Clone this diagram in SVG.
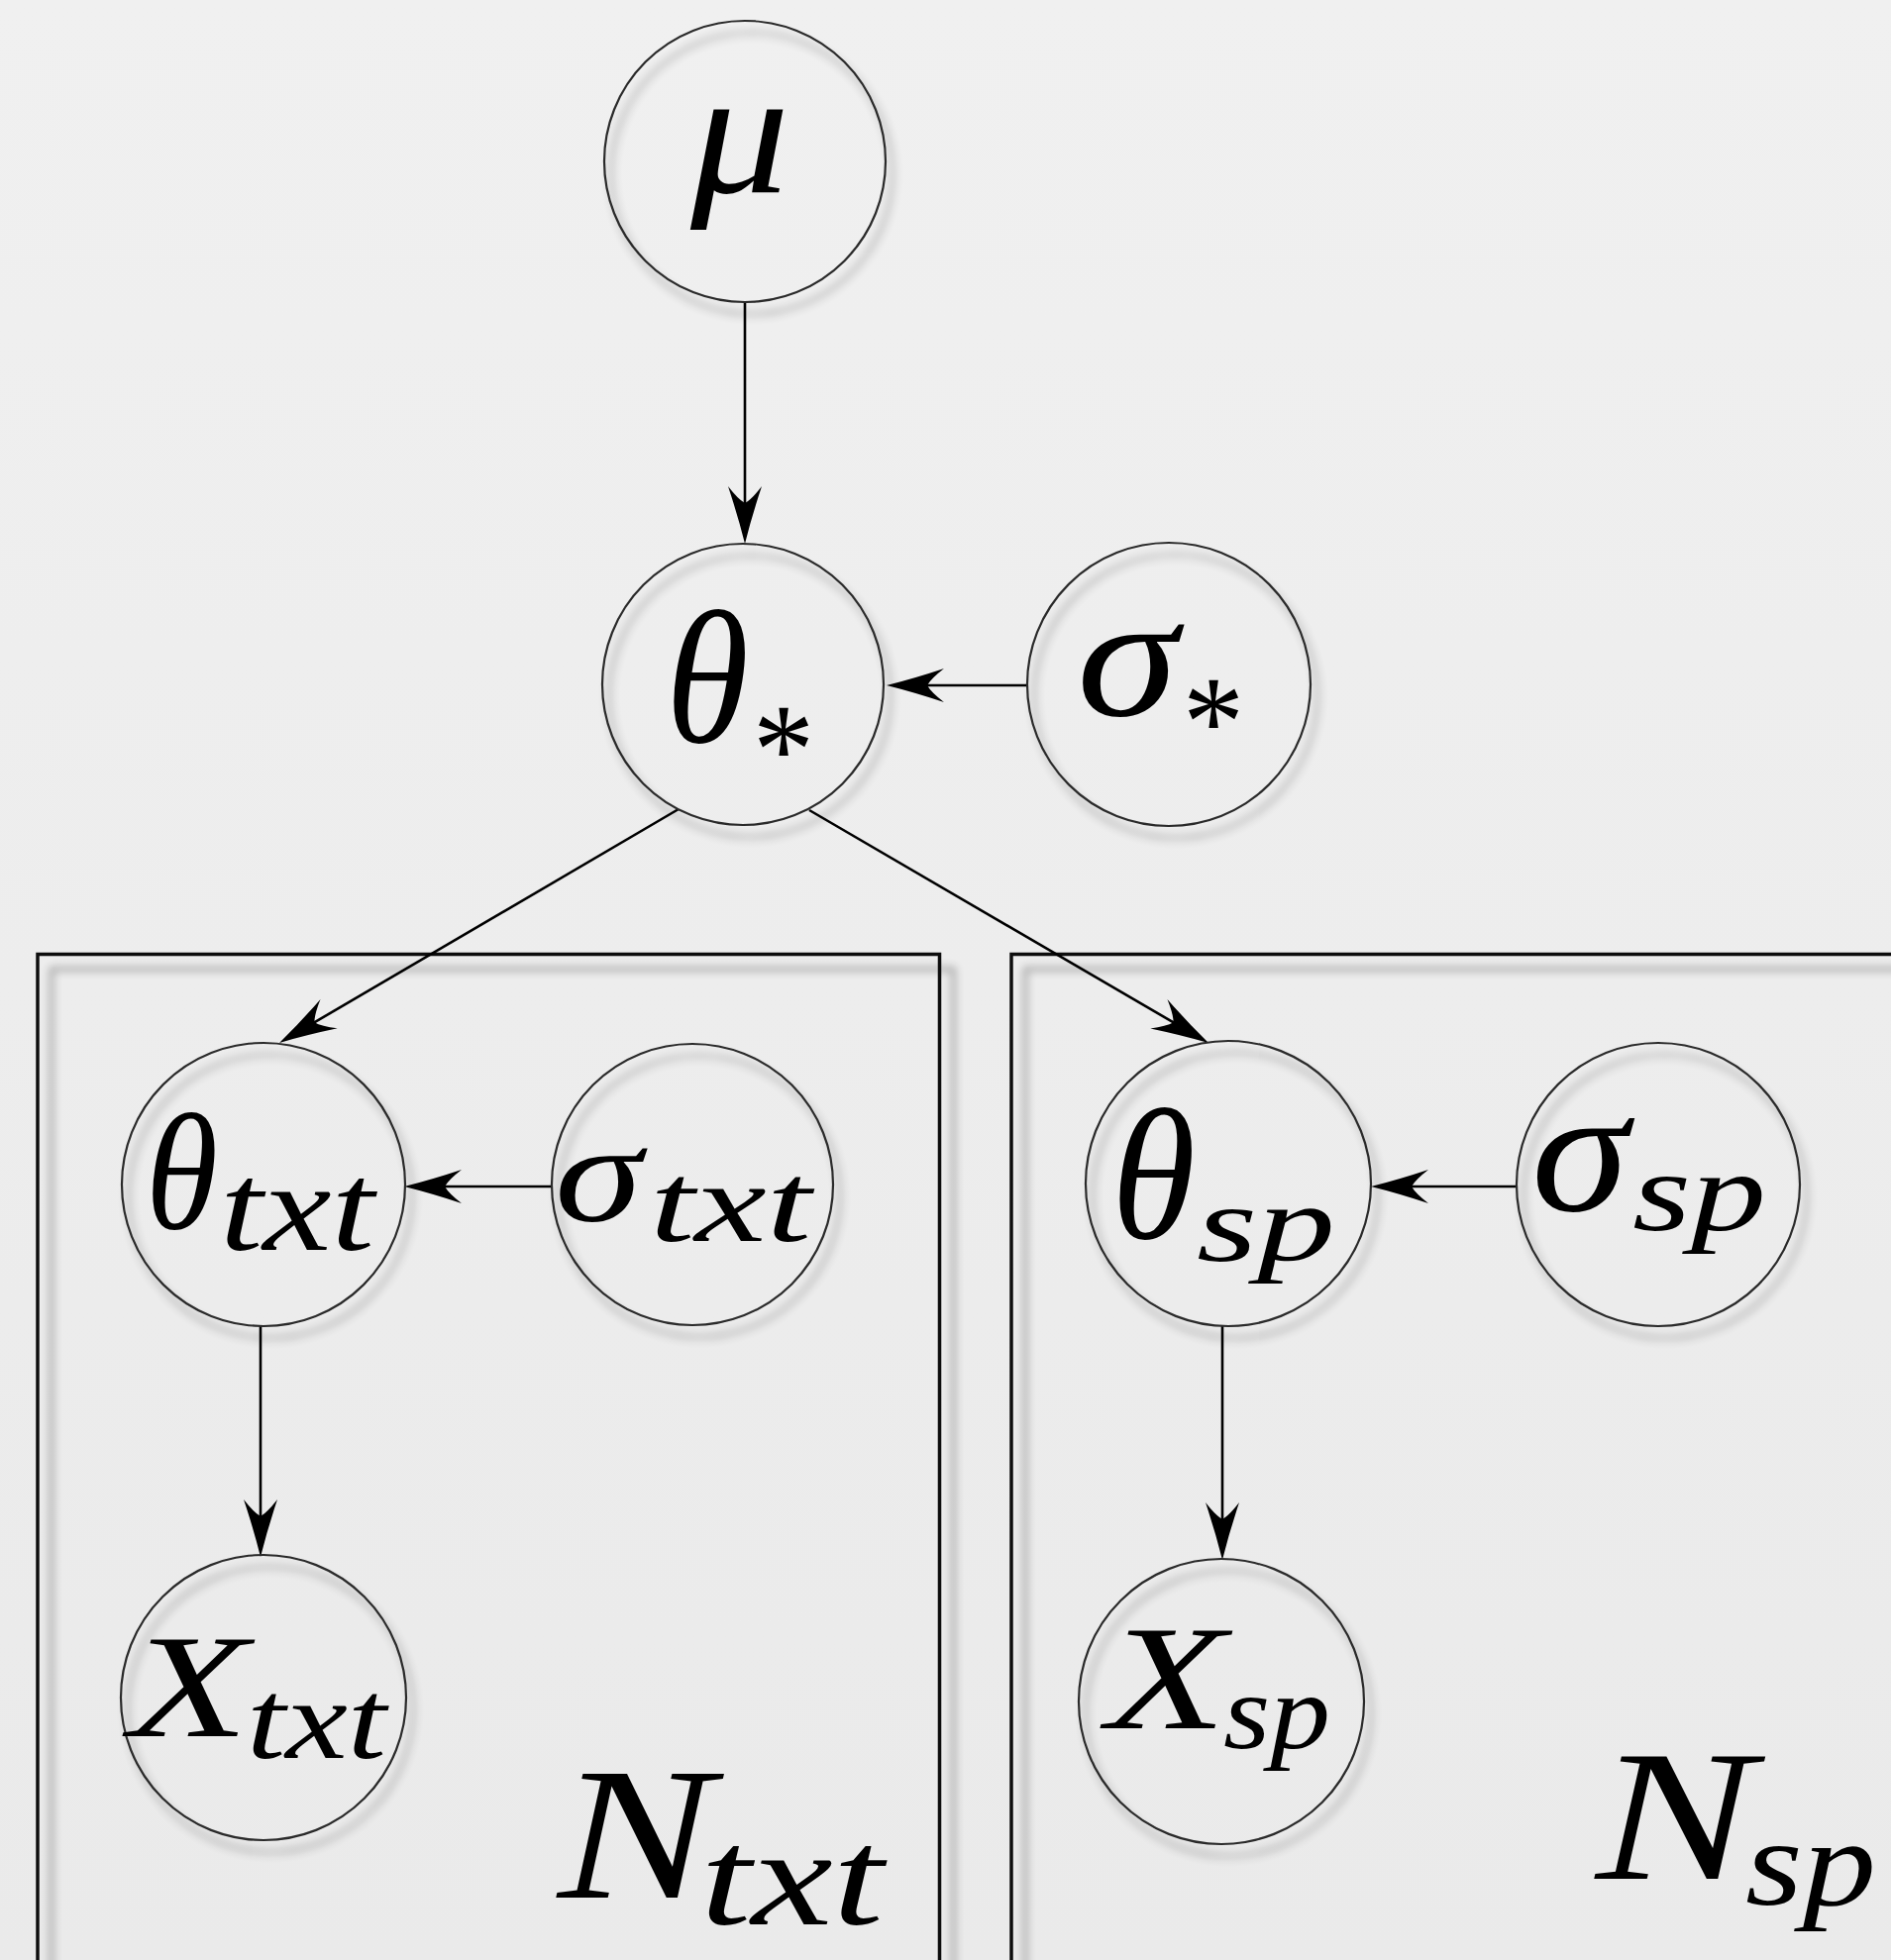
<svg xmlns="http://www.w3.org/2000/svg" width="1909" height="1979" viewBox="0 0 1909 1979">
<style>
.node{fill:none;stroke:#2a2a2a;stroke-width:2.2;filter:url(#cshadow)}
.plate{fill:none;stroke:#111;stroke-width:3.5;filter:url(#pshadow)}
.edge{stroke:#000;stroke-width:2.6;fill:none;marker-end:url(#ah)}
.m{font-family:"Liberation Serif","Times New Roman",serif;font-style:italic;fill:#000}
.r{font-family:"Liberation Serif","Times New Roman",serif;font-style:normal;fill:#000}
</style>
<defs>
<linearGradient id="bg" x1="0" y1="0" x2="0" y2="1">
<stop offset="0" stop-color="#f0f0f0"/>
<stop offset="1" stop-color="#eaeaea"/>
</linearGradient>
<filter id="cshadow" x="-20%" y="-20%" width="150%" height="150%">
<feGaussianBlur in="SourceAlpha" stdDeviation="5" result="b"/>
<feOffset in="b" dx="7" dy="12" result="o"/>
<feComponentTransfer in="o" result="s"><feFuncA type="linear" slope="0.45"/></feComponentTransfer>
<feMerge><feMergeNode in="s"/><feMergeNode in="SourceGraphic"/></feMerge>
</filter>
<filter id="pshadow" x="-5%" y="-5%" width="115%" height="115%">
<feGaussianBlur in="SourceAlpha" stdDeviation="4.5" result="b"/>
<feOffset in="b" dx="14" dy="15" result="o"/>
<feComponentTransfer in="o" result="s"><feFuncA type="linear" slope="0.4"/></feComponentTransfer>
<feMerge><feMergeNode in="s"/><feMergeNode in="SourceGraphic"/></feMerge>
</filter>
<marker id="ah" markerUnits="userSpaceOnUse" markerWidth="64" markerHeight="40" viewBox="-62 -20 64 40" refX="-20" refY="0" orient="auto" overflow="visible">
<path d="M0,0 Q-28,-7 -58,-17 Q-45,-7 -41,0 Q-45,7 -58,17 Q-28,7 0,0Z" fill="#000"/>
</marker>
</defs>
<rect x="0" y="0" width="1909" height="1979" fill="url(#bg)"/>

<g id="plate-txt">
<rect class="plate" x="38" y="963.5" width="910.5" height="1040"/>
</g>
<g id="plate-sp">
<rect class="plate" x="1021" y="963.5" width="960" height="1040"/>
</g>

<g id="connectors">
<line class="edge" x1="752" y1="305" x2="752" y2="529"/>
<line class="edge" x1="1037" y1="692" x2="915" y2="692"/>
<line class="edge" x1="685" y1="817" x2="299.3" y2="1042.9"/>
<line class="edge" x1="817" y1="818" x2="1202.7" y2="1042.9"/>
<line class="edge" x1="557" y1="1198" x2="428" y2="1198"/>
<line class="edge" x1="1530" y1="1198" x2="1404" y2="1198"/>
<line class="edge" x1="263" y1="1339" x2="263" y2="1552"/>
<line class="edge" x1="1234" y1="1338" x2="1234" y2="1555"/>
</g>

<g id="node-mu">
<circle class="node" cx="752" cy="163" r="142"/>
<text class="m" x="697" y="194" font-size="180" textLength="100" lengthAdjust="spacingAndGlyphs">μ</text>
</g>
<g id="node-theta-star">
<circle class="node" cx="750" cy="691" r="142"/>
<text class="m" x="672" y="749" font-size="190" textLength="84" lengthAdjust="spacingAndGlyphs">θ</text>
<text class="r" x="760" y="801" font-size="132" textLength="62" lengthAdjust="spacingAndGlyphs">*</text>
</g>
<g id="node-sigma-star">
<circle class="node" cx="1180" cy="691" r="143"/>
<text class="m" x="1087" y="722" font-size="178" textLength="102" lengthAdjust="spacingAndGlyphs">σ</text>
<text class="r" x="1194" y="773" font-size="132" textLength="62" lengthAdjust="spacingAndGlyphs">*</text>
</g>
<g id="node-theta-txt">
<circle class="node" cx="266" cy="1196" r="143"/>
<text class="m" x="147" y="1240" font-size="167" textLength="73" lengthAdjust="spacingAndGlyphs">θ</text>
<text class="m" x="222" y="1262" font-size="126" textLength="156" lengthAdjust="spacingAndGlyphs">txt</text>
</g>
<g id="node-sigma-txt">
<circle class="node" cx="699" cy="1196" r="142"/>
<text class="m" x="560" y="1233" font-size="142" textLength="88" lengthAdjust="spacingAndGlyphs">σ</text>
<text class="m" x="656" y="1253" font-size="114" textLength="163" lengthAdjust="spacingAndGlyphs">txt</text>
</g>
<g id="node-theta-sp">
<circle class="node" cx="1240" cy="1195" r="144"/>
<text class="m" x="1122" y="1250" font-size="188" textLength="85" lengthAdjust="spacingAndGlyphs">θ</text>
<text class="m" x="1208" y="1273" font-size="111" textLength="140" lengthAdjust="spacingAndGlyphs">sp</text>
</g>
<g id="node-sigma-sp">
<circle class="node" cx="1674" cy="1196" r="143"/>
<text class="m" x="1546" y="1222" font-size="180" textLength="98" lengthAdjust="spacingAndGlyphs">σ</text>
<text class="m" x="1648" y="1242" font-size="115" textLength="135" lengthAdjust="spacingAndGlyphs">sp</text>
</g>
<g id="node-x-txt">
<circle class="node" cx="266" cy="1714" r="144"/>
<text class="m" x="130" y="1753" font-size="148" textLength="121" lengthAdjust="spacingAndGlyphs">X</text>
<text class="m" x="249" y="1775" font-size="114" textLength="141" lengthAdjust="spacingAndGlyphs">txt</text>
</g>
<g id="node-x-sp">
<circle class="node" cx="1233" cy="1718" r="144"/>
<text class="m" x="1117" y="1745" font-size="151" textLength="121" lengthAdjust="spacingAndGlyphs">X</text>
<text class="m" x="1235" y="1765" font-size="107" textLength="108" lengthAdjust="spacingAndGlyphs">sp</text>
</g>

<g id="label-n-txt">
<text class="m" x="563" y="1916" font-size="190" textLength="157" lengthAdjust="spacingAndGlyphs">N</text>
<text class="m" x="707" y="1943" font-size="140" textLength="185" lengthAdjust="spacingAndGlyphs">txt</text>
</g>
<g id="label-n-sp">
<text class="m" x="1611" y="1897" font-size="189" textLength="160" lengthAdjust="spacingAndGlyphs">N</text>
<text class="m" x="1762" y="1923" font-size="124" textLength="132" lengthAdjust="spacingAndGlyphs">sp</text>
</g>
</svg>
